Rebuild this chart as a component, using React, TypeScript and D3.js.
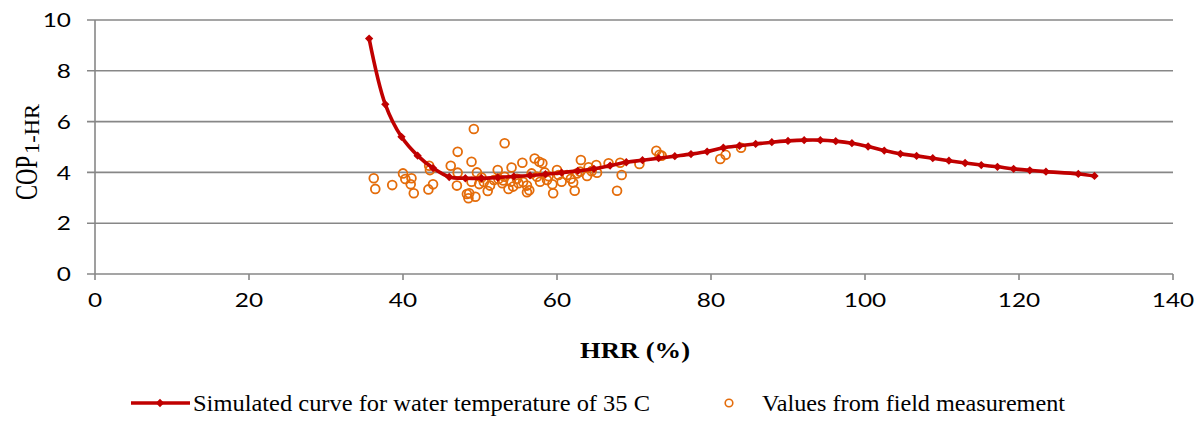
import React from "react";
import * as d3 from "d3";

const curveX = [35.6, 37.7, 39.8, 41.9, 43.9, 46.0, 48.1, 50.2, 52.3, 54.4, 56.5, 58.5, 60.6, 62.7, 64.8, 66.9, 69.0, 71.1, 73.2, 75.3, 77.4, 79.5, 81.6, 83.7, 85.8, 87.9, 90.0, 92.1, 94.2, 96.2, 98.3, 100.4, 102.5, 104.6, 106.7, 108.8, 110.9, 113.0, 115.1, 117.2, 119.3, 121.4, 123.5, 127.7, 129.8];
const curveY = [9.27, 6.68, 5.40, 4.66, 4.17, 3.82, 3.77, 3.77, 3.80, 3.84, 3.88, 3.93, 3.99, 4.06, 4.14, 4.27, 4.40, 4.48, 4.56, 4.64, 4.72, 4.82, 4.97, 5.05, 5.12, 5.19, 5.24, 5.27, 5.27, 5.23, 5.15, 5.02, 4.86, 4.73, 4.65, 4.56, 4.46, 4.37, 4.29, 4.22, 4.14, 4.08, 4.03, 3.94, 3.86];

const measX = [36.2, 36.4, 38.6, 40.0, 40.3, 41.1, 41.0, 41.4, 43.3, 43.9, 43.4, 43.5, 46.2, 47.1, 47.1, 47.0, 48.3, 48.5,
  49.2, 53.2, 48.9, 49.6, 48.9, 49.9, 48.6, 49.4, 51.0, 51.3, 52.3, 54.1, 52.4, 53.2, 52.9, 54.0, 53.7, 54.3, 55.0, 55.5, 56.1, 56.1,
  57.1, 57.7, 58.1, 56.7, 57.4, 58.4, 57.8, 58.7, 59.4, 59.5, 60.0, 60.2, 50.5, 51.8, 55.6, 56.4, 54.8, 53.0, 50.2, 58.9,
  63.1, 62.3, 62.1, 61.3, 60.6, 62.6, 63.0, 64.1, 65.1, 65.2, 63.9, 66.7, 68.2, 68.4, 67.8, 70.7, 72.9, 73.3, 73.6,
  81.2, 81.9, 83.9, 64.5, 61.8];
const measY = [3.77, 3.35, 3.50, 3.96, 3.74, 3.77, 3.53, 3.18, 3.33, 3.53, 4.26, 4.09, 4.26, 4.81, 3.99, 3.48, 3.15, 2.98,
  5.71, 5.15, 4.42, 4.00, 3.63, 3.54, 3.18, 3.04, 3.27, 3.48, 4.09, 4.19, 3.74, 3.83, 3.57, 3.63, 3.35, 3.44, 3.57, 4.38, 3.22, 3.48,
  4.55, 4.42, 4.36, 3.96, 3.83, 4.00, 3.63, 3.70, 3.53, 3.18, 4.09, 3.90, 3.62, 3.70, 3.62, 3.30, 3.75, 3.68, 3.80, 3.85,
  4.49, 3.28, 3.60, 3.90, 3.63, 3.96, 4.03, 4.20, 4.29, 3.99, 3.86, 4.36, 4.38, 3.90, 3.28, 4.33, 4.85, 4.69, 4.66,
  4.53, 4.69, 4.97, 4.05, 3.75];

const xTicks = [0, 20, 40, 60, 80, 100, 120, 140];
const yTicks = [0, 2, 4, 6, 8, 10];

const seriesNames = ["Simulated curve for water temperature of 35 C", "Values from field measurement"];

export default function App() {
  const x = d3.scaleLinear().domain([0, 140]).range([95, 1173]);
  const y = d3.scaleLinear().domain([0, 10]).range([274, 20]);
  const curvePts: [number, number][] = curveX.map((v, i) => [x(v), y(curveY[i])]);
  const line = d3.line().curve(d3.curveCatmullRom.alpha(0.5))(curvePts) || "";
  const diamond = d3.symbol().type(d3.symbolDiamond2).size(44)() || "";
  const red = "#C00000";
  const orange = "#E46C0A";
  const grid = "#878787";
  const tickFont = "Lato, 'Open Sans', sans-serif";
  const serif = "'Liberation Serif', 'Times New Roman', serif";
  const sx = 1.22;

  return (
    <svg width={1197} height={427} style={{ position: "absolute", left: 0, top: 0, background: "#fff" }}>
      {yTicks.map((t) => (
        <g key={"y" + t}>
          <line x1={87} x2={x(140)} y1={y(t)} y2={y(t)} stroke={grid} strokeWidth={1.6} />
          <text transform={`translate(71,${y(t)}) scale(${sx},1)`} dy="0.36em" textAnchor="end" fontFamily={tickFont} fontSize={20} fill="#000">{t}</text>
        </g>
      ))}
      <line x1={x(0)} x2={x(0)} y1={y(10)} y2={y(0)} stroke={grid} strokeWidth={1.6} />
      {xTicks.map((t) => (
        <g key={"x" + t}>
          <line x1={x(t)} x2={x(t)} y1={y(0)} y2={y(0) + 6} stroke={grid} strokeWidth={1.6} />
          <text transform={`translate(${x(t)},307) scale(${sx},1)`} textAnchor="middle" fontFamily={tickFont} fontSize={20} fill="#000">{t}</text>
        </g>
      ))}
      {measX.map((v, i) => (
        <circle key={"m" + i} cx={x(v)} cy={y(measY[i])} r={4.4} fill="none" stroke={orange} strokeWidth={1.8} />
      ))}
      <path d={line} fill="none" stroke={red} strokeWidth={3.6} />
      {curvePts.map((p, i) => (
        <path key={"d" + i} d={diamond} transform={`translate(${p[0]},${p[1]})`} fill={red} />
      ))}
      <g transform="translate(37,200) scale(1.35,1) rotate(-90)">
        <text x={0} y={0} textLength={44} lengthAdjust="spacingAndGlyphs" fontFamily={serif} fontSize={24} fill="#000">COP</text>
        <text x={46} y={1.5} textLength={50} lengthAdjust="spacingAndGlyphs" fontFamily={serif} fontSize={16} fill="#000">1-HR</text>
      </g>
      <text x={580} y={358} textLength={110} lengthAdjust="spacingAndGlyphs" fontFamily={serif} fontSize={23} fontWeight="bold" fill="#000">HRR (%)</text>
      <line x1={131} x2={190} y1={403} y2={403} stroke={red} strokeWidth={3.6} />
      <path d={diamond} transform="translate(160,403)" fill={red} />
      <text x={193} y={411} textLength={457} lengthAdjust="spacingAndGlyphs" fontFamily={serif} fontSize={24} fill="#000">{seriesNames[0]}</text>
      <circle cx={729} cy={403} r={3.8} fill="none" stroke={orange} strokeWidth={1.6} />
      <text x={762} y={411} textLength={303} lengthAdjust="spacingAndGlyphs" fontFamily={serif} fontSize={24} fill="#000">{seriesNames[1]}</text>
    </svg>
  );
}
